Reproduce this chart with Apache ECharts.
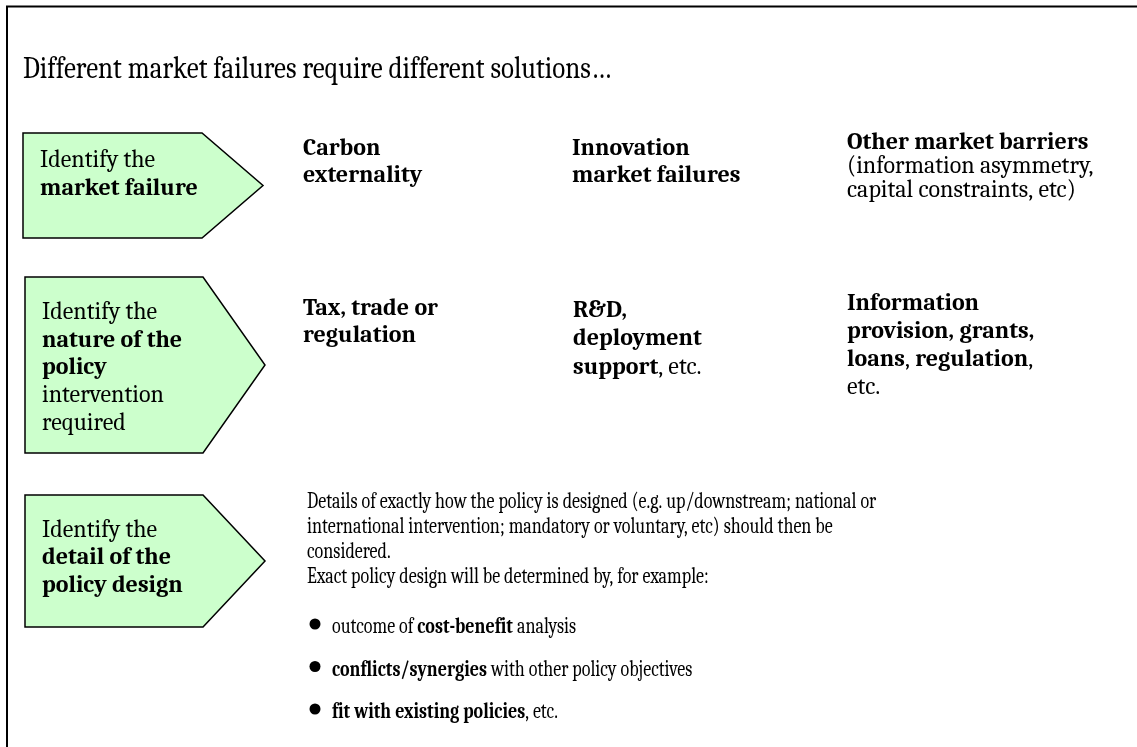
<!DOCTYPE html>
<html><head><meta charset="utf-8">
<script src="https://cdn.jsdelivr.net/npm/echarts@6/dist/echarts.min.js"></script>
<style>html,body{margin:0;padding:0;background:#fff}#c{width:1137px;height:747px}</style>
</head><body><div id="c"></div>
<script>
// ---- content ----
const titleText = 'Different market failures require different solutions…';
const stageLines = [
  ['Identify the', '{b|market failure}'],
  ['Identify the', '{b|nature of the}', '{b|policy}', 'intervention', 'required'],
  ['Identify the', '{b|detail of the}', '{b|policy design}']
];
const failureCells = [
  ['{b|Carbon}', '{b|externality}'],
  ['{b|Innovation}', '{b|market failures}'],
  ['{b|Other market barriers}', '(information asymmetry,', 'capital constraints, etc)']
];
const policyCells = [
  ['{b|Tax, trade or}', '{b|regulation}'],
  ['{b|R&D,}', '{b|deployment}', '{b|support}, etc.'],
  ['{b|Information}', '{b|provision, grants,}', '{b|loans}, {b|regulation},', 'etc.']
];
const designLines = [
  'Details of exactly how the policy is designed (e.g. up/downstream; national or',
  'international intervention; mandatory or voluntary, etc) should then be',
  'considered.',
  'Exact policy design will be determined by, for example:'
];
const designBullets = [
  'outcome of {b|cost-benefit} analysis',
  '{b|conflicts/synergies} with other policy objectives',
  '{b|fit with existing policies}, etc.'
];

// ---- layout / style ----
const FONT = 'Caladea, Cambria, "Liberation Serif", serif';
const GREEN = '#ccffcc';
const stageBoxes = [
  {left: 23, top: 133, bottom: 238, body: 202, tip: 263, tx: 40, ty: 160, lh: 28},
  {left: 25, top: 277, bottom: 453, body: 203, tip: 265, tx: 42, ty: 312, lh: 27.8},
  {left: 25, top: 495, bottom: 627, body: 203, tip: 265, tx: 42, ty: 530, lh: 27.5}
];
const failurePos = [{x: 303, y: 148, lh: 27}, {x: 572, y: 148, lh: 27}, {x: 847, y: 142, lh: 24}];
const policyPos = [{x: 303, y: 308, lh: 27}, {x: 573, y: 310, lh: 28.5}, {x: 847, y: 303, lh: 28}];
const designPos = {x: 307, y: 502, lh: 25, sx: 0.82};
const bulletPos = {x: 332, bx: 315, y: 627, lh: 42.5, sx: 0.82};

const rich = size => ({b: {fontFamily: FONT, fontWeight: 'bold', fontSize: size, fill: '#000'}});

function textLine(str, x, y, size, sx, sy) {
  const whole = /^\{b\|([^}]*)\}$/.exec(str);
  const style = {
    fontFamily: FONT, fontSize: size, fill: '#000',
    align: 'left', verticalAlign: 'middle'
  };
  if (whole) { style.text = whole[1]; style.fontWeight = 'bold'; }
  else if (str.indexOf('{') >= 0) { style.text = str; style.rich = rich(size); }
  else { style.text = str; }
  return {type: 'text', x: x, y: y, scaleX: sx || 1, scaleY: sy || 1, silent: true, style: style};
}
function block(lines, pos, size, sx) {
  return lines.map((l, i) => textLine(l, pos.x, pos.y + i * pos.lh, size, sx));
}

const g = [];
// frame
g.push({type: 'polyline', silent: true, shape: {points: [[7, 800], [7, 6.5], [1200, 6.5]]},
  style: {stroke: '#000', lineWidth: 2, fill: null}});
// title
g.push(textLine(titleText, 23, 69, 27, 1, 1.15));
// stage arrows
stageBoxes.forEach((b, i) => {
  const mid = (b.top + b.bottom) / 2;
  g.push({type: 'polygon', silent: true,
    shape: {points: [[b.left, b.top], [b.body, b.top], [b.tip, mid], [b.body, b.bottom], [b.left, b.bottom]]},
    style: {fill: GREEN, stroke: '#000', lineWidth: 1.5}});
  g.push(...block(stageLines[i], {x: b.tx, y: b.ty, lh: b.lh}, 24));
});
failureCells.forEach((c, i) => g.push(...block(c, failurePos[i], 24)));
policyCells.forEach((c, i) => g.push(...block(c, policyPos[i], 24)));
g.push(...block(designLines, designPos, 22, designPos.sx));
designBullets.forEach((t, i) => {
  const y = bulletPos.y + i * bulletPos.lh;
  g.push({type: 'circle', silent: true, shape: {cx: bulletPos.bx, cy: y - 3, r: 5.5}, style: {fill: '#000'}});
  g.push(textLine(t, bulletPos.x, y, 22, bulletPos.sx));
});

const chart = echarts.init(document.getElementById('c'), null, {renderer: 'canvas'});
chart.setOption({backgroundColor: '#fff', animation: false, series: [], graphic: g});
</script></body></html>
